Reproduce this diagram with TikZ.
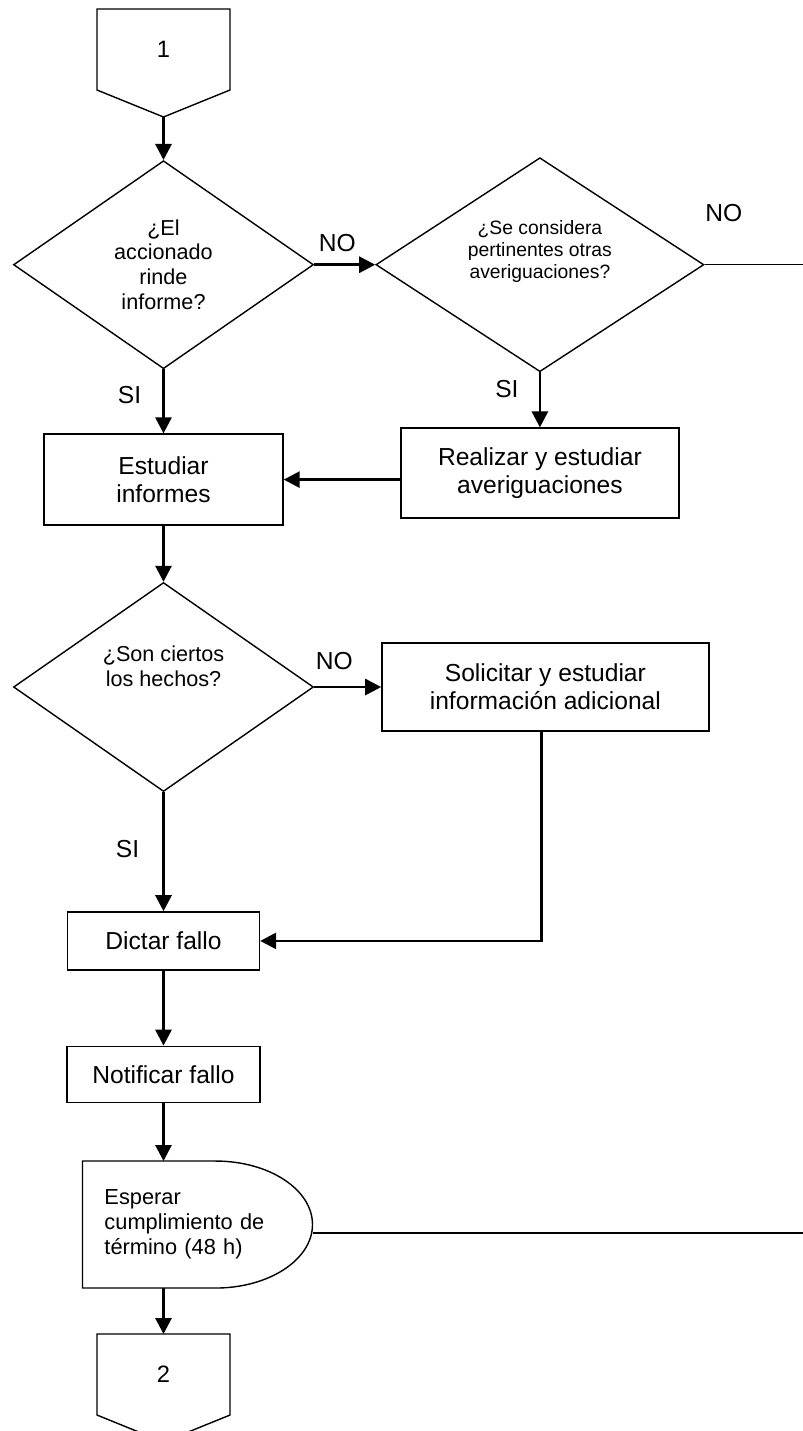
\documentclass[tikz,border=0pt]{standalone}
\usepackage{fontspec}
\setmainfont{Liberation Sans}
\usetikzlibrary{positioning,arrows.meta,shapes.geometric}

\begin{document}
\begin{tikzpicture}[
    box/.style={draw,line width=0.8pt,align=center,font=\fontsize{14}{16}\selectfont},
    decision/.style={draw,diamond,aspect=1.44,line width=0.8pt,align=center,inner sep=0pt,font=\fontsize{12.3}{14.2}\selectfont},
    offpage/.style={rectangle,minimum width=26.6mm,minimum height=16.2mm,outer sep=0pt,font=\fontsize{13.5}{16}\selectfont},
    delay/.style={rectangle,minimum width=46mm,minimum height=25.4mm,inner xsep=4.4mm,text width=37.2mm,align=left,outer sep=0pt,font=\fontsize{12.4}{14.2}\selectfont},
    arr/.style={line width=1.6pt,-{Triangle[length=3.2mm,width=3.2mm]}},
    link/.style={line width=0.8pt},
    lbl/.style={inner sep=0pt,font=\fontsize{14}{15}\selectfont},
    node distance=12mm
  ]
    \useasboundingbox (-32.7mm,9.9mm) rectangle (127.9mm,-276.3mm);
    \node[offpage] (c1) at (0,0) {1};
    \coordinate[below=5.4mm of c1] (c1-tip);
    \node[decision,minimum width=60mm,minimum height=41.6mm,below=14mm of c1] (d1) {¿El\\accionado\\rinde\\informe?};
    \node[decision,minimum width=65.6mm,minimum height=42.8mm,right=12.2mm of d1,
      label={[align=center,font=\fontsize{11}{12.5}\selectfont,yshift=2.6mm]center:{¿Se considera\\pertinentes otras\\averiguaciones?}}] (d2) {};
    \node[box,minimum width=47.8mm,minimum height=18.2mm,below=12.8mm of d1] (est) {Estudiar\\informes};
    \node[box,minimum width=55.6mm,minimum height=18mm,below=11mm of d2] (real) {Realizar y estudiar\\averiguaciones};
    \node[decision,minimum width=60mm,minimum height=41.8mm,below=11.2mm of est,
      label={[align=center,font=\fontsize{12.3}{14.2}\selectfont,yshift=4.2mm]center:{¿Son ciertos\\los hechos?}}] (d3) {};
    \node[box,minimum width=65.4mm,minimum height=17.6mm,right=13.4mm of d3] (sol) {Solicitar y estudiar\\información adicional};
    \node[box,minimum width=38.4mm,minimum height=11.6mm,below=23.8mm of d3] (dictar) {Dictar fallo};
    \node[box,minimum width=38.6mm,minimum height=11.2mm,below=15mm of dictar] (notif) {Notificar fallo};
    \node[delay,below=11.6mm of notif,xshift=6.8mm] (esp) {Esperar\\cumplimiento de\\término (48 h)};
    \coordinate (espfoot) at (esp.south -| notif.south);
    \node[offpage,below=9.2mm of espfoot] (c2) {2};
    \coordinate[below=5.4mm of c2] (c2-tip);
    \coordinate (edge) at (127.9mm,0);

    % connector outlines and wait shape
    \foreach \c in {c1,c2}
      \draw[link] (\c.north west) -- (\c.north east) -- (\c.south east) -- (\c-tip) -- (\c.south west) -- cycle;
    \draw[link] (esp.north west) -- ++(26.6mm,0) arc[start angle=90,end angle=-90,x radius=19.4mm,y radius=12.7mm] -- (esp.south west) -- cycle;

    \draw[arr] (c1-tip) -- (d1);
    \draw[arr] (d1) -- node[lbl,above=2.3mm,pos=0.38] {NO} (d2);
    \draw[arr] (d1) -- node[lbl,left=4.2mm,pos=0.4] {SI} (est);
    \draw[link] (d2.east) -- node[lbl,pos=0,anchor=south west,yshift=8.4mm] {NO} (d2.east -| edge);
    \draw[arr] (d2) -- node[lbl,left=4mm,pos=0.31] {SI} (real);
    \draw[arr] (est.east -| real.west) -- (est.east);
    \draw[arr] (est) -- (d3);
    \draw[arr] (d3) -- node[lbl,above=3.2mm,pos=0.3] {NO} (sol);
    \draw[arr] (d3) -- node[lbl,left=4.6mm,pos=0.48] {SI} (dictar);
    \draw[arr] ([xshift=-0.8mm]sol.south) |- (dictar.east);
    \draw[arr] (dictar) -- (notif);
    \draw[arr] (notif) -- (notif |- esp.north);
    \draw[link] ([yshift=-1.7mm]esp.east) -- ([yshift=-1.7mm]esp.east -| edge);
    \draw[arr] (espfoot) -- (c2);
  \end{tikzpicture}
\end{document}
